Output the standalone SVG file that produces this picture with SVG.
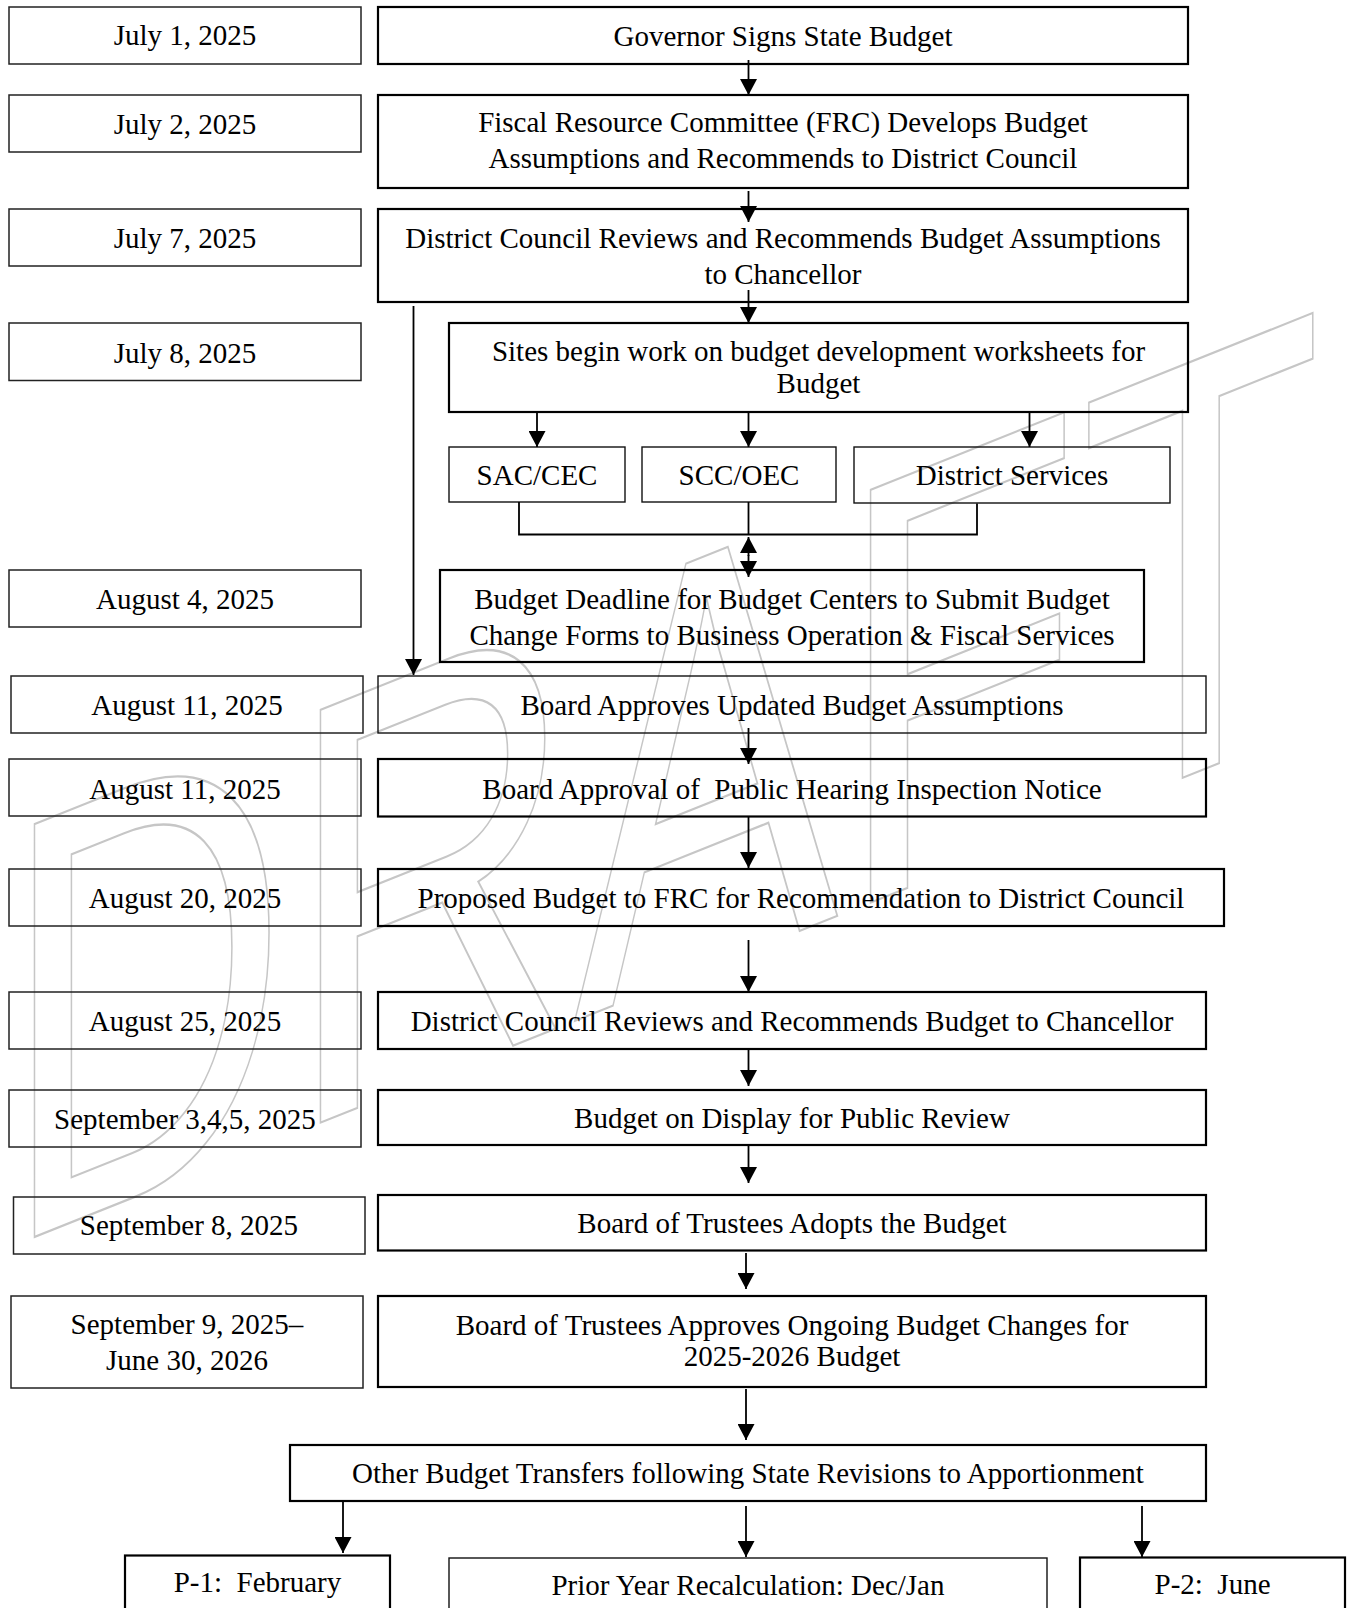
<svg xmlns="http://www.w3.org/2000/svg" width="1350" height="1608" viewBox="0 0 1350 1608">
<style>
  text { font-family: "Liberation Serif", "Times New Roman", serif; font-size: 29px; fill: #000; text-anchor: middle; white-space: pre; }
  .date rect { fill: none; stroke: #222; stroke-width: 1.5; }
  .main rect { fill: none; stroke: #000; stroke-width: 2.2; }
  .thin rect { fill: none; stroke: #111; stroke-width: 1.4; }
  .wm { font-family: "Liberation Sans", Arial, sans-serif; font-size: 600px; fill: none; stroke: #c6c6c6; stroke-width: 2; text-anchor: start; }
  #connectors line, #connectors polyline { stroke: #000; stroke-width: 1.8; fill: none; }
  #connectors .arr { marker-end: url(#ah); }
</style>
<defs>
  <marker id="ah" markerUnits="userSpaceOnUse" markerWidth="17" markerHeight="17" viewBox="0 0 16 17" refX="16" refY="8.5" orient="auto">
    <path d="M0,0 L16,8.5 L0,17 z" fill="#000"/>
  </marker>
</defs>
<rect width="1350" height="1608" fill="#fff"/>

<g id="watermark">
  <text class="wm" vector-effect="non-scaling-stroke" transform="translate(2,1250) skewY(-21.8) scale(0.66,1)">DRAFT</text>
</g>

<!-- date column -->
<g id="d1" class="date"><rect x="9" y="7" width="352" height="57"/><text x="185" y="45">July 1, 2025</text></g>
<g id="d2" class="date"><rect x="9" y="95" width="352" height="57"/><text x="185" y="133.5">July 2, 2025</text></g>
<g id="d3" class="date"><rect x="9" y="209" width="352" height="57"/><text x="185" y="247.5">July 7, 2025</text></g>
<g id="d4" class="date"><rect x="9" y="323" width="352" height="57.5"/><text x="185" y="362.5">July 8, 2025</text></g>
<g id="d5" class="date"><rect x="9" y="570" width="352" height="57"/><text x="185" y="608.5">August 4, 2025</text></g>
<g id="d6" class="date"><rect x="11" y="676" width="352" height="57"/><text x="187" y="714.5">August 11, 2025</text></g>
<g id="d7" class="date"><rect x="9" y="759" width="352" height="57"/><text x="185" y="798.5">August 11, 2025</text></g>
<g id="d8" class="date"><rect x="9" y="869" width="352" height="57"/><text x="185" y="907.5">August 20, 2025</text></g>
<g id="d9" class="date"><rect x="9" y="992" width="352" height="57"/><text x="185" y="1030.5">August 25, 2025</text></g>
<g id="d10" class="date"><rect x="9" y="1090" width="352" height="57"/><text x="185" y="1128.5">September 3,4,5, 2025</text></g>
<g id="d11" class="date"><rect x="13.5" y="1197" width="351.5" height="57"/><text x="189" y="1234.5">September 8, 2025</text></g>
<g id="d12" class="date"><rect x="11" y="1296" width="352" height="92"/><text x="187" y="1333.5">September 9, 2025–</text><text x="187" y="1370">June 30, 2026</text></g>

<!-- process column -->
<g id="n1" class="main"><rect x="378" y="7" width="810" height="57"/><text x="783" y="45.5">Governor Signs State Budget</text></g>
<g id="n2" class="main"><rect x="378" y="95" width="810" height="93"/><text x="783" y="132">Fiscal Resource Committee (FRC) Develops Budget</text><text x="783" y="168">Assumptions and Recommends to District Council</text></g>
<g id="n3" class="main"><rect x="378" y="209" width="810" height="93"/><text x="783" y="248">District Council Reviews and Recommends Budget Assumptions</text><text x="783" y="283.5">to Chancellor</text></g>
<g id="n4" class="main"><rect x="449" y="323" width="739" height="89"/><text x="818.5" y="361">Sites begin work on budget development worksheets for</text><text x="818.5" y="393">Budget</text></g>
<g id="n5" class="thin"><rect x="449" y="447" width="176" height="55"/><text x="537" y="485">SAC/CEC</text></g>
<g id="n6" class="thin"><rect x="642" y="447" width="194" height="55"/><text x="739" y="485">SCC/OEC</text></g>
<g id="n7" class="thin"><rect x="854" y="447" width="316" height="56"/><text x="1012" y="485">District Services</text></g>
<g id="n8" class="main"><rect x="440" y="570" width="704" height="92"/><text x="792" y="609">Budget Deadline for Budget Centers to Submit Budget</text><text x="792" y="644.5">Change Forms to Business Operation &amp; Fiscal Services</text></g>
<g id="n9" class="thin"><rect x="378" y="676" width="828" height="57"/><text x="792" y="714.5">Board Approves Updated Budget Assumptions</text></g>
<g id="n10" class="main"><rect x="378" y="759" width="828" height="57.5"/><text x="792" y="798.5">Board Approval of  Public Hearing Inspection Notice</text></g>
<g id="n11" class="main"><rect x="378" y="869" width="846" height="57"/><text x="801" y="907.5">Proposed Budget to FRC for Recommendation to District Council</text></g>
<g id="n12" class="main"><rect x="378" y="992" width="828" height="57"/><text x="792" y="1030.5">District Council Reviews and Recommends Budget to Chancellor</text></g>
<g id="n13" class="main"><rect x="378" y="1090" width="828" height="55"/><text x="792" y="1128">Budget on Display for Public Review</text></g>
<g id="n14" class="main"><rect x="378" y="1195" width="828" height="55.5"/><text x="792" y="1233">Board of Trustees Adopts the Budget</text></g>
<g id="n15" class="main"><rect x="378" y="1296" width="828" height="91"/><text x="792" y="1334.5">Board of Trustees Approves Ongoing Budget Changes for</text><text x="792" y="1366">2025-2026 Budget</text></g>
<g id="n16" class="main"><rect x="290" y="1445" width="916" height="56"/><text x="748" y="1483">Other Budget Transfers following State Revisions to Apportionment</text></g>
<g id="n17" class="main"><rect x="125" y="1555.5" width="265" height="70"/><text x="257.5" y="1592">P-1:  February</text></g>
<g id="n18" class="thin"><rect x="449" y="1558" width="598" height="70"/><text x="748" y="1594.5">Prior Year Recalculation: Dec/Jan</text></g>
<g id="n19" class="main"><rect x="1080" y="1557.5" width="265" height="70"/><text x="1212.5" y="1593.5">P-2:  June</text></g>

<g id="connectors">
  <line class="arr" x1="748.5" y1="60" x2="748.5" y2="95"/>
  <line class="arr" x1="748.5" y1="191" x2="748.5" y2="222"/>
  <line class="arr" x1="748.5" y1="290" x2="748.5" y2="323"/>
  <line class="arr" x1="537" y1="412" x2="537" y2="447"/>
  <line class="arr" x1="748.5" y1="412" x2="748.5" y2="447"/>
  <line class="arr" x1="1029.5" y1="412" x2="1029.5" y2="447"/>
  <polyline points="519,502 519,534.5 977,534.5 977,503.5"/>
  <line x1="748.5" y1="502" x2="748.5" y2="534.5"/>
  <line class="arr" x1="748.5" y1="556" x2="748.5" y2="537"/>
  <line class="arr" x1="748.5" y1="555" x2="748.5" y2="577"/>
  <line class="arr" x1="413.5" y1="306" x2="413.5" y2="675"/>
  <line class="arr" x1="748.5" y1="728" x2="748.5" y2="764"/>
  <line class="arr" x1="748.5" y1="817" x2="748.5" y2="868"/>
  <line class="arr" x1="748.5" y1="940" x2="748.5" y2="992"/>
  <line class="arr" x1="748.5" y1="1050" x2="748.5" y2="1086"/>
  <line class="arr" x1="748.5" y1="1146" x2="748.5" y2="1183"/>
  <line class="arr" x1="746" y1="1253" x2="746" y2="1289"/>
  <line class="arr" x1="746" y1="1389" x2="746" y2="1440"/>
  <line class="arr" x1="343" y1="1501" x2="343" y2="1553"/>
  <line class="arr" x1="746" y1="1506" x2="746" y2="1557"/>
  <line class="arr" x1="1142" y1="1506" x2="1142" y2="1557"/>
</g>
</svg>
